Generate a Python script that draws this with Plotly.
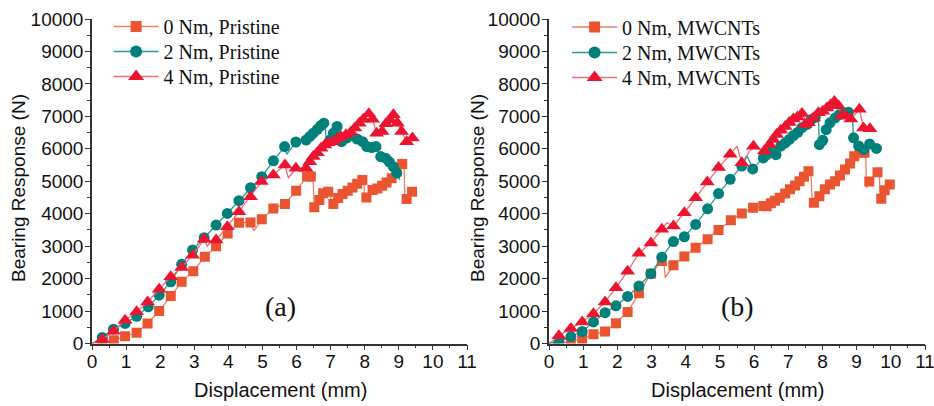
import plotly.graph_objects as go

# ---------------- Panel (a): Pristine ----------------
a0_x = [0.30, 0.64, 0.97, 1.31, 1.63, 1.97, 2.31, 2.63, 2.97, 3.31, 3.64, 3.98, 4.31, 4.65, 4.98,
        5.32, 5.66, 5.99, 6.31, 6.42, 6.52, 6.67, 6.78, 6.93, 7.08, 7.22, 7.35, 7.50, 7.64, 7.78,
        7.93, 8.05, 8.23, 8.37, 8.51, 8.64, 8.79, 8.93, 9.10, 9.23, 9.39]
a0_y = [50, 100, 225, 330, 620, 1000, 1460, 1900, 2230, 2670, 3000, 3390, 3720, 3730, 3830,
        4160, 4300, 4710, 5150, 5150, 4200, 4420, 4630, 4680, 4300, 4480, 4610, 4710, 4810, 4920,
        5040, 4500, 4730, 4780, 4860, 4960, 5090, 5300, 5530, 4450, 4680]
a0_lx = [0.0, 4.75, 6.48, 6.99, 7.02, 7.97, 8.00, 9.15, 9.18]
a0_ly = [0, 3470, 5170, 4750, 4250, 5100, 4420, 5600, 4400]

a2_x = [0.30, 0.63, 0.97, 1.31, 1.65, 1.97, 2.31, 2.63, 2.95, 3.29, 3.64, 3.97, 4.31, 4.65, 4.98,
        5.32, 5.65, 5.98, 6.28, 6.39, 6.49, 6.61, 6.71, 6.80, 6.98, 7.08, 7.19, 7.32, 7.47, 7.62,
        7.78, 7.94, 8.06, 8.20, 8.33, 8.47, 8.61, 8.72, 8.84, 8.94]
a2_y = [185, 440, 620, 840, 1130, 1490, 1900, 2440, 2880, 3260, 3650, 4010, 4400, 4800, 5140,
        5630, 6070, 6210, 6270, 6380, 6480, 6600, 6710, 6790, 6270, 6480, 6690, 6220, 6330, 6400,
        6300, 6220, 6070, 6040, 6070, 5760, 5710, 5600, 5450, 5250]
a2_lx = [0.0, 5.71, 6.84, 6.87, 7.23, 7.27, 9.03]
a2_ly = [0, 5830, 6810, 6250, 6710, 6150, 5040]

a4_x = [0.30, 0.63, 0.97, 1.31, 1.63, 1.97, 2.31, 2.63, 2.95, 3.29, 3.64, 3.97, 4.31, 4.65, 4.97,
        5.32, 5.66, 5.98, 6.28, 6.39, 6.49, 6.61, 6.72, 6.83, 6.93, 7.08, 7.19, 7.30, 7.45, 7.59,
        7.71, 7.84, 7.96, 8.12, 8.23, 8.35, 8.51, 8.62, 8.74, 8.84, 8.96, 9.08, 9.23, 9.40]
a4_y = [120, 380, 720, 975, 1280, 1670, 2060, 2340, 2720, 3210, 3190, 3600, 4060, 4520, 4990,
        5190, 5500, 5400, 5400, 5600, 5760, 5880, 6020, 6120, 6190, 6220, 6300, 6380, 6430, 6510,
        6640, 6790, 6910, 7080, 6910, 6480, 6530, 6770, 6890, 7050, 6790, 6530, 6220, 6330]
a4_lx = [0.0, 3.38, 3.47, 5.76]
a4_ly = [0, 3000, 3120, 5100]

# ---------------- Panel (b): MWCNTs ----------------
b0_x = [0.64, 0.97, 1.30, 1.64, 1.96, 2.30, 2.63, 2.98, 3.30, 3.64, 3.96, 4.29, 4.64, 4.96, 5.32,
        5.64, 5.97, 6.27, 6.37, 6.49, 6.61, 6.75, 6.91, 7.05, 7.20, 7.33, 7.46, 7.59, 7.75, 7.91,
        8.07, 8.22, 8.37, 8.51, 8.66, 8.81, 8.93, 9.08, 9.23, 9.37, 9.61, 9.72, 9.82, 9.97]
b0_y = [50, 150, 285, 370, 625, 970, 1550, 2150, 2540, 2410, 2680, 2950, 3210, 3500, 3800,
        4010, 4180, 4240, 4230, 4320, 4400, 4490, 4620, 4750, 4870, 5000, 5140, 5310, 4340, 4540,
        4750, 4900, 5000, 5180, 5360, 5550, 5770, 5880, 5880, 4990, 5280, 4460, 4720, 4900]
b0_lx = [0.0, 3.35, 3.40, 7.66, 7.70, 9.26, 9.29, 9.66, 9.69]
b0_ly = [0, 2620, 2030, 5370, 4300, 5980, 4800, 5390, 4450]

b2_x = [0.29, 0.64, 0.97, 1.30, 1.64, 1.96, 2.30, 2.63, 2.98, 3.30, 3.64, 3.96, 4.29, 4.64, 4.96,
        5.30, 5.64, 5.96, 6.27, 6.37, 6.51, 6.64, 6.78, 6.91, 7.03, 7.15, 7.28, 7.40, 7.55, 7.67,
        7.79, 7.91, 8.01, 8.11, 8.22, 8.37, 8.50, 8.61, 8.76, 8.91, 9.06, 9.21, 9.38, 9.58]
b2_y = [50, 215, 370, 665, 950, 1160, 1450, 1770, 2150, 2660, 3140, 3290, 3670, 4150, 4620,
        5060, 5470, 5380, 5720, 5820, 5930, 5820, 6080, 6180, 6290, 6410, 6510, 6650, 6750, 6900,
        6970, 6130, 6260, 6590, 6800, 6950, 7060, 7110, 7130, 6340, 6090, 5980, 6150, 6010]
b2_lx = [0.0, 5.80, 7.88, 8.87, 9.65]
b2_ly = [0, 5780, 7030, 7150, 6000]

b4_x = [0.29, 0.64, 0.97, 1.30, 1.64, 1.96, 2.30, 2.63, 2.98, 3.30, 3.64, 3.96, 4.29, 4.63, 4.96,
        5.30, 5.64, 5.98, 6.30, 6.45, 6.56, 6.66, 6.78, 6.91, 7.03, 7.15, 7.27, 7.40, 7.49, 7.59,
        7.74, 7.88, 8.01, 8.13, 8.24, 8.35, 8.47, 8.56, 8.69, 8.83, 9.08, 9.20, 9.39]
b4_y = [235, 460, 665, 920, 1280, 1720, 2230, 2780, 3100, 3520, 3620, 4030, 4490, 4980, 5420,
        5830, 5570, 6080, 5930, 6130, 6290, 6440, 6570, 6690, 6810, 6920, 6980, 7090, 6750, 6800,
        6950, 7110, 7160, 7260, 7360, 7460, 7330, 7020, 7000, 6920, 7220, 6640, 6620]
b4_lx = [0.0, 3.45, 5.50, 7.44]
b4_ly = [0, 3720, 6080, 7150]

labels_a = ["0 Nm, Pristine", "2 Nm, Pristine", "4 Nm, Pristine"]
labels_b = ["0 Nm, MWCNTs", "2 Nm, MWCNTs", "4 Nm, MWCNTs"]

x_ticks = list(range(0, 12))
y_ticks = list(range(0, 10001, 1000))
x_title = "Displacement (mm)"
y_title = "Bearing Response (N)"

# ---------------- styles / layout helpers ----------------
styles = [
    dict(symbol="square", size=10, mcolor="#EA5430", lcolor="#F27C66"),
    dict(symbol="circle", size=11, mcolor="#00807B", lcolor="#259C96"),
    dict(symbol="triangle-up", size=13, mcolor="#EC1530", lcolor="#F46878"),
]

W, H, OFF = 934, 406, 0   # body margin removed in the page (see post_script)


def fx(px):
    return (px - OFF) / W


def fy(py):
    return (H - (py - OFF)) / H


def merge(mx, my, ex, ey):
    xs = list(mx) + list(ex)
    ys = list(my) + list(ey)
    flag = [1] * len(mx) + [0] * len(ex)
    order = sorted(range(len(xs)), key=lambda i: xs[i])
    return [xs[i] for i in order], [ys[i] for i in order], [flag[i] for i in order]


fig = go.Figure()

panel_a = [(a0_x, a0_y, a0_lx, a0_ly), (a2_x, a2_y, a2_lx, a2_ly), (a4_x, a4_y, a4_lx, a4_ly)]
panel_b = [(b0_x, b0_y, b0_lx, b0_ly), (b2_x, b2_y, b2_lx, b2_ly), (b4_x, b4_y, b4_lx, b4_ly)]

legend_font = dict(family="Liberation Serif, Times New Roman", size=20, color="#111")
legend_layouts = {}
leg_rows_a = [26.5, 51.5, 76.5]
leg_rows_b = [27.0, 52.5, 77.5]
k = 1
for panel, labels, xa, ya, lx, rows in [(panel_a, labels_a, "x", "y", 118, leg_rows_a),
                                        (panel_b, labels_b, "x2", "y2", 576.5, leg_rows_b)]:
    for (mx, my, ex, ey), name, st, ry in zip(panel, labels, styles, rows):
        xs, ys, flag = merge(mx, my, ex, ey)
        fig.add_trace(go.Scatter(
            x=xs, y=ys, mode="lines+markers", name=name, showlegend=False,
            xaxis=xa, yaxis=ya,
            line=dict(color=st["lcolor"], width=1.3),
            marker=dict(symbol=st["symbol"], color=st["mcolor"], opacity=1,
                        size=[st["size"] * f for f in flag], line=dict(width=0)),
        ))
        lname = "legend" if k == 1 else f"legend{k}"
        # legend entry (no data points drawn)
        fig.add_trace(go.Scatter(
            x=[None], y=[None], mode="lines+markers", name=name, showlegend=True,
            xaxis=xa, yaxis=ya, legend=lname,
            line=dict(color=st["lcolor"], width=1.3),
            marker=dict(symbol=st["symbol"], color=st["mcolor"], size=st["size"] + 1, line=dict(width=0)),
        ))
        legend_layouts[lname] = dict(x=fx(lx - 9.4), y=fy(ry), xanchor="left", yanchor="middle",
                                     font=legend_font, bgcolor="rgba(0,0,0,0)", borderwidth=0,
                                     itemwidth=45)
        k += 1

tick_font = dict(family="Liberation Sans, Arial", size=19, color="#111")
xt_font = dict(family="Liberation Sans, Arial", size=20, color="#111")
yt_font = dict(family="Liberation Sans, Arial", size=19, color="#111")

common_x = dict(range=[0, 11], tickmode="array", tickvals=x_ticks, ticktext=[str(t) for t in x_ticks],
                showline=True, linecolor="#333", linewidth=1.5, ticks="outside", ticklen=5,
                tickcolor="#333", tickwidth=1.3, showgrid=False, zeroline=False, tickfont=tick_font,
                automargin=False, ticklabelstandoff=-5, ticklabeloverflow="allow",
                minor=dict(dtick=0.5, tick0=0, ticks="outside", ticklen=3, tickcolor="#333", showgrid=False))
common_y = dict(range=[0, 10000], tickmode="array", tickvals=y_ticks, ticktext=[str(t) for t in y_ticks],
                showline=True, linecolor="#333", linewidth=1.5, ticks="outside", ticklen=5,
                tickcolor="#333", tickwidth=1.3, showgrid=False, zeroline=False, tickfont=tick_font,
                automargin=False, ticklabelstandoff=-2,
                minor=dict(dtick=500, tick0=0, ticks="outside", ticklen=3, tickcolor="#333", showgrid=False),
                domain=[fy(343.5), fy(19)])

annotations = []
for cx, cy in [(280.5, 390), (737, 390)]:
    annotations.append(dict(text=x_title, x=fx(cx), y=fy(cy), xref="paper", yref="paper",
                            xanchor="center", yanchor="middle", showarrow=False, font=xt_font))
for cx, cy in [(18, 188), (477, 188)]:
    annotations.append(dict(text=y_title, x=fx(cx), y=fy(cy), xref="paper", yref="paper",
                            xanchor="center", yanchor="middle", textangle=-90, showarrow=False,
                            font=yt_font))
annotations += [
    dict(text="(a)", x=5.54, y=1150, xref="x", yref="y", showarrow=False,
         font=dict(family="Liberation Serif, Times New Roman", size=28, color="#111")),
    dict(text="(b)", x=5.50, y=1150, xref="x2", yref="y2", showarrow=False,
         font=dict(family="Liberation Serif, Times New Roman", size=28, color="#111")),
]

fig.update_layout(
    width=W, height=H,
    margin=dict(l=0, r=0, t=0, b=0, autoexpand=False),
    paper_bgcolor="white", plot_bgcolor="white",
    xaxis=dict(domain=[fx(92), fx(467)], anchor="y", **common_x),
    yaxis=dict(anchor="x", **common_y),
    xaxis2=dict(domain=[fx(549), fx(925)], anchor="y2", **common_x),
    yaxis2=dict(anchor="x2", **common_y),
    annotations=annotations,
    **legend_layouts,
)

fig.write_html("out.html", config={"displayModeBar": False},
               post_script="document.body.style.margin='0';document.body.style.overflow='hidden';")
